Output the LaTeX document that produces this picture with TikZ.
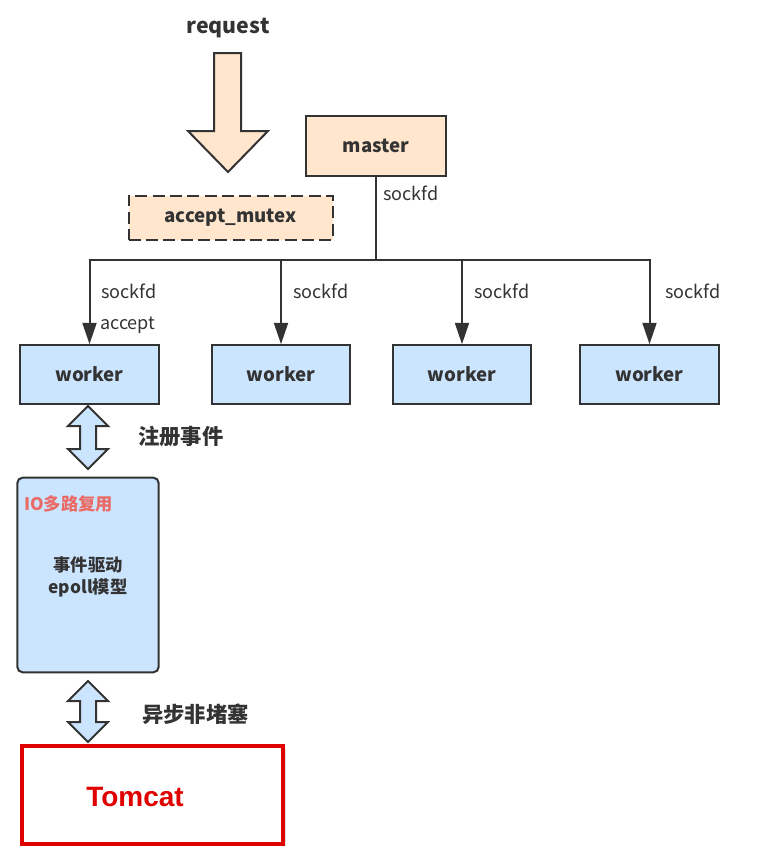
\documentclass[tikz,border=0pt]{standalone}
\usepackage{fontspec}
\setmainfont{Noto Sans CJK SC}
\newfontfamily\arialfont{Liberation Sans}
\usetikzlibrary{arrows.meta,shadows}
\definecolor{peach}{HTML}{FFE6CC}
\definecolor{lblue}{HTML}{CCE5FF}
\definecolor{dgray}{HTML}{333333}
\definecolor{pinkred}{HTML}{EA6B66}
\definecolor{tomred}{HTML}{E00000}

\begin{document}
\begin{tikzpicture}[x=0.75pt,y=-0.75pt]
\tikzstyle{every node}=[text=dgray,inner sep=0pt,font=\bfseries\fontsize{14}{16}\selectfont]
\tikzstyle{peachbox}=[draw=dgray,fill=peach,line width=1.5pt]
\tikzstyle{workerbox}=[draw=dgray,fill=lblue,line width=1.5pt,minimum width=104pt,minimum height=44pt]
\tikzstyle{lbl}=[anchor=west,font=\fontsize{13.5}{16}\selectfont]
\tikzstyle{link}=[draw=dgray,line width=1.5pt]
\tikzstyle{fatarrow}=[draw=dgray,line width=1.5pt,line join=miter]
%\tikzstyle{cjk}=[font=\bfseries\fontsize{15}{18}\selectfont]

\useasboundingbox (0,0) rectangle (768,854);

\node[font=\bfseries\fontsize{16}{18}\selectfont] (request) at (228,28) {request};
\node[peachbox,dash pattern=on 9pt off 4pt,minimum width=153pt,minimum height=33pt] (mutex) at (230.5,217.5) {accept\_mutex};
\node[peachbox,minimum width=105pt,minimum height=45pt] (master) at (376,146) {master};

% request arrow
\draw[fatarrow,fill=peach] (214,53) -- (241,53) -- (241,131) -- (268,131) -- (228,172)
  -- (188,131) -- (214,131) -- cycle;

\node[workerbox] (w1) at (89.5,374.5) {worker};
\node[workerbox] (w2) at (281,374.5) {worker};
\node[workerbox] (w3) at (462,374.5) {worker};
\node[workerbox] (w4) at (649.5,374.5) {worker};

\coordinate (bus) at (376,260);
\draw[link] (master.south) -- (bus);
\foreach \i in {1,...,4}
  \draw[link,-{Triangle[length=16pt,width=10.5pt]}] (bus) -| (w\i.north);

\node[lbl] (sfm) at (383,193) {sockfd};
\node[lbl] (sf1) at (101,291) {sockfd};
\node[lbl] (sf2) at (293,291) {sockfd};
\node[lbl] (sf3) at (474,291) {sockfd};
\node[lbl] (sf4) at (665,291) {sockfd};
\node[lbl] (acc) at (100,325) {accept};

\node[draw=dgray,fill=lblue,rounded corners=4pt,line width=1.5pt,minimum width=106pt,
  minimum height=146pt] (io) at (88,575) {};
\node[anchor=west,text=pinkred,font=\bfseries\fontsize{13}{15}\selectfont] (iolbl) at (24,504) {IO多路复用};
\node[align=center,font=\bfseries\fontsize{13}{16}\selectfont] (epoll) at (88,577) {事件驱动\\epoll模型};

% double arrows
\foreach \t/\b in {406/469,681/742}
  \draw[fatarrow,fill=lblue] (88,\t) -- (108,\t+20) -- (96,\t+20) -- (96,\b-20) -- (108,\b-20)
    -- (88,\b) -- (68,\b-20) -- (80,\b-20) -- (80,\t+20) -- (68,\t+20) -- cycle;
\node[anchor=west,font=\bfseries\fontsize{16}{18}\selectfont] (reg) at (138,436) {注册事件};
\node[anchor=west,font=\bfseries\fontsize{16}{18}\selectfont] (async) at (142,714) {异步非堵塞};

\node[draw=tomred,line width=3pt,minimum width=196pt,minimum height=73pt,
  drop shadow={opacity=0.25,shadow xshift=2pt,shadow yshift=-2pt},fill=white] (tomcat) at (152.5,795) {};
\node[text=tomred,font=\arialfont\bfseries\fontsize{21}{24}\selectfont] (tomlbl) at (135,797) {Tomcat};
\end{tikzpicture}
\end{document}
